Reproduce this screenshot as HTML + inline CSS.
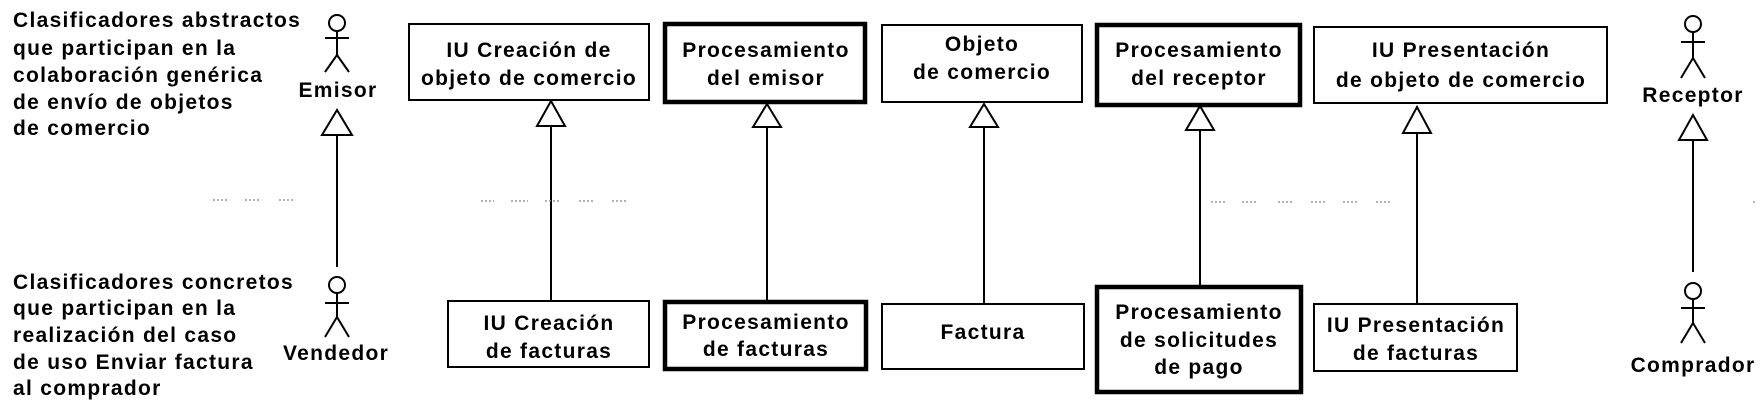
<!DOCTYPE html>
<html><head><meta charset="utf-8"><style>
html,body{margin:0;padding:0;background:#fff;}
svg{display:block;}
text{font-family:"Liberation Sans",Arial,sans-serif;font-weight:bold;font-size:21px;letter-spacing:1.3px;fill:#000;}
.m{text-anchor:middle;}
</style></head><body>
<svg width="1762" height="405" viewBox="0 0 1762 405" xmlns="http://www.w3.org/2000/svg">
<g stroke="#000" fill="none">
<!-- left labels -->
</g>
<text x="13" y="27">Clasificadores abstractos</text>
<text x="13" y="55">que participan en la</text>
<text x="13" y="82">colaboración genérica</text>
<text x="13" y="109">de envío de objetos</text>
<text x="13" y="135">de comercio</text>
<text x="13" y="289">Clasificadores concretos</text>
<text x="13" y="315">que participan en la</text>
<text x="13" y="342">realización del caso</text>
<text x="13" y="369">de uso Enviar factura</text>
<text x="13" y="395">al comprador</text>

<g stroke="#000" stroke-width="2" fill="#fff">
<!-- Emisor actor -->
<circle cx="337" cy="23" r="8"/>
<line x1="337" y1="31" x2="337" y2="55"/><line x1="325" y1="38" x2="349" y2="38"/>
<line x1="337" y1="55" x2="325" y2="72"/><line x1="337" y1="55" x2="349" y2="72"/>
<!-- Vendedor -->
<circle cx="337" cy="285" r="8"/>
<line x1="337" y1="293" x2="337" y2="317"/><line x1="325" y1="303" x2="349" y2="303"/>
<line x1="337" y1="317" x2="325" y2="337"/><line x1="337" y1="317" x2="349" y2="337"/>
<!-- Receptor -->
<circle cx="1693" cy="24" r="8"/>
<line x1="1693" y1="32" x2="1693" y2="58"/><line x1="1681" y1="42" x2="1705" y2="42"/>
<line x1="1693" y1="58" x2="1681" y2="78"/><line x1="1693" y1="58" x2="1705" y2="78"/>
<!-- Comprador -->
<circle cx="1693" cy="291" r="8"/>
<line x1="1693" y1="299" x2="1693" y2="323"/><line x1="1681" y1="308" x2="1705" y2="308"/>
<line x1="1693" y1="323" x2="1681" y2="343"/><line x1="1693" y1="323" x2="1705" y2="343"/>

<!-- generalization lines -->
<line x1="337" y1="135" x2="337" y2="267"/>
<line x1="551" y1="126" x2="551" y2="300"/>
<line x1="767" y1="127" x2="767" y2="300"/>
<line x1="984" y1="127" x2="984" y2="303"/>
<line x1="1200" y1="130" x2="1200" y2="285"/>
<line x1="1417" y1="133" x2="1417" y2="303"/>
<line x1="1693" y1="140" x2="1693" y2="272"/>
<!-- triangles -->
<polygon points="337,110 322,135 352,135"/>
<polygon points="551,101 537,126 565,126"/>
<polygon points="767,104 753,127 781,127"/>
<polygon points="984,104 970,127 998,127"/>
<polygon points="1200,106 1186,130 1214,130"/>
<polygon points="1417,107 1403,133 1431,133"/>
<polygon points="1693,115 1679,140 1707,140"/>

<!-- boxes -->
<rect x="409" y="24" width="240" height="76"/>
<rect x="665" y="24" width="200" height="78" stroke-width="4.5"/>
<rect x="882" y="25" width="200" height="77"/>
<rect x="1097" y="25" width="203" height="80" stroke-width="4.5"/>
<rect x="1314" y="27" width="293" height="76"/>
<rect x="448" y="301" width="201" height="66"/>
<rect x="665" y="302" width="201" height="67" stroke-width="4.5"/>
<rect x="882" y="304" width="202" height="65"/>
<rect x="1097" y="287" width="204" height="105" stroke-width="4.5"/>
<rect x="1314" y="304" width="203" height="67"/>
</g>

<!-- dotted separator -->
<g stroke="#999" stroke-width="1.5" stroke-dasharray="2,2">
<line x1="213" y1="200" x2="227" y2="200"/><line x1="245" y1="200" x2="259" y2="200"/><line x1="279" y1="200" x2="294" y2="200"/>
<line x1="481" y1="201" x2="494" y2="201"/><line x1="511" y1="201" x2="528" y2="201"/><line x1="545" y1="201" x2="559" y2="201"/>
<line x1="579" y1="201" x2="595" y2="201"/><line x1="612" y1="201" x2="627" y2="201"/>
<line x1="1211" y1="202" x2="1227" y2="202"/><line x1="1242" y1="202" x2="1258" y2="202"/><line x1="1278" y1="202" x2="1292" y2="202"/>
<line x1="1311" y1="202" x2="1326" y2="202"/><line x1="1343" y1="202" x2="1357" y2="202"/><line x1="1376" y1="202" x2="1391" y2="202"/>
<line x1="1753" y1="202" x2="1757" y2="202"/>
</g>

<!-- actor labels -->
<text class="m" x="338" y="97">Emisor</text>
<text class="m" x="336" y="360">Vendedor</text>
<text class="m" x="1693" y="102">Receptor</text>
<text class="m" x="1693" y="372">Comprador</text>

<!-- box labels -->
<text class="m" x="529" y="57">IU Creación de</text>
<text class="m" x="529" y="85">objeto de comercio</text>
<text class="m" x="766" y="57">Procesamiento</text>
<text class="m" x="766" y="85">del emisor</text>
<text class="m" x="982" y="51">Objeto</text>
<text class="m" x="982" y="79">de comercio</text>
<text class="m" x="1199" y="57">Procesamiento</text>
<text class="m" x="1199" y="85">del receptor</text>
<text class="m" x="1461" y="57">IU Presentación</text>
<text class="m" x="1461" y="87">de objeto de comercio</text>

<text class="m" x="549" y="330">IU Creación</text>
<text class="m" x="549" y="358">de facturas</text>
<text class="m" x="766" y="329">Procesamiento</text>
<text class="m" x="766" y="356">de facturas</text>
<text class="m" x="983" y="339">Factura</text>
<text class="m" x="1199" y="319">Procesamiento</text>
<text class="m" x="1199" y="347">de solicitudes</text>
<text class="m" x="1199" y="374">de pago</text>
<text class="m" x="1416" y="332">IU Presentación</text>
<text class="m" x="1416" y="360">de facturas</text>
</svg>
</body></html>
